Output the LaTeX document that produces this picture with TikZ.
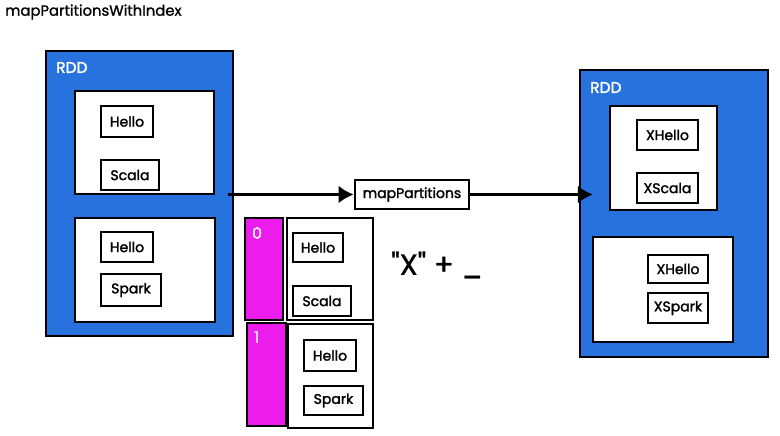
\documentclass[tikz,border=0pt]{standalone}
\usepackage{fontspec}
\setmainfont{Poppins}
\newfontfamily\skf{Poppins}[FakeBold=1.8]
\newfontfamily\tlf{Poppins}[FakeBold=1.2]
\usetikzlibrary{arrows.meta}
\definecolor{rddblue}{RGB}{40,114,222}
\definecolor{pmag}{RGB}{236,28,236}
\tikzset{
  rdd/.style={draw=black, line width=2.2pt, inner sep=0pt, fill=rddblue},
  part/.style={draw=black, line width=2.4pt, inner sep=0pt, fill=white},
  idx/.style={draw=black, line width=1.5pt, inner sep=0pt, fill=pmag},
  word/.style={draw=black, line width=2.8pt, inner sep=0pt, fill=white, font=\skf\fontsize{14}{16}\selectfont},
  lbl/.style={text=white, font=\skf\fontsize{15.5}{17}\selectfont, inner sep=0pt, anchor=west},
  arr/.style={line width=3.5pt, -{Latex[length=15pt,width=18pt]}},
}
\newcommand\bx[7]{\node[#1, minimum width=#5pt, minimum height=#6pt] (#2) at (#3,#4) {#7};}
\begin{document}
\begin{tikzpicture}[x=1pt,y=-1pt]
\useasboundingbox (0,0) rectangle (780,436);
\node[anchor=west, inner sep=0pt, font=\tlf\fontsize{14.8}{16}\selectfont] (title) at (5,12) {mapPartitionsWithIndex};
% left RDD
\bx{rdd}{lrdd}{139.5}{193.5}{187}{285}{}
\node[lbl] (lrddl) at (56,67.5) {RDD};
\bx{part}{li1}{144.5}{142.5}{139}{103}{}
\bx{word}{lh1}{127}{121.5}{52}{31}{Hello}
\bx{word}{ls1}{130}{175}{58}{30}{Scala}
\bx{part}{li2}{145}{270}{140}{104}{}
\bx{word}{lh2}{127}{247}{52}{30}{Hello}
\bx{word}{lsp2}{131}{290}{60}{32}{Spark}
% operator
\bx{word}{mp}{412}{194.5}{114}{29}{mapPartitions}
% right RDD
\bx{rdd}{rrdd}{674}{213.5}{188}{287}{}
\node[lbl] (rrddl) at (590,87.5) {RDD};
\bx{part}{ri1}{663.5}{158}{107}{104}{}
\bx{word}{rh1}{667.5}{135}{61}{30}{XHello}
\bx{word}{rs1}{667.5}{188}{61}{30}{XScala}
\bx{part}{ri2}{663}{289.5}{140}{105}{}
\bx{word}{rh2}{678}{269}{60}{28}{XHello}
\bx{word}{rsp2}{678}{308}{60}{30}{XSpark}
% partitions with index
\bx{idx}{m0}{264}{269}{38}{102}{}
\node[lbl] (i0) at (252,233) {0};
\bx{part}{p0}{330}{269}{86}{102}{}
\bx{word}{ph0}{318}{247.5}{50}{29}{Hello}
\bx{word}{ps0}{322}{301}{58}{30}{Scala}
\bx{idx}{m1}{266.5}{374.5}{39}{103}{}
\node[lbl] (i1) at (254,337) {1};
\bx{part}{p1}{330.5}{376}{85}{104}{}
\bx{word}{ph1}{330}{355.5}{52}{31}{Hello}
\bx{word}{psp1}{333.5}{400.5}{59}{29}{Spark}
% function
\node[inner sep=0pt, font=\tlf\fontsize{29}{32}\selectfont] (fn) at (437,265) {\symbol{34}X\symbol{34} + \_};
% arrows
\draw[arr] ([xshift=-6pt]lrdd.east |- mp.west) -- (mp.west);
\draw[arr] (mp.east) -- ([xshift=14pt]rrdd.west |- mp.east);
\end{tikzpicture}
\end{document}
